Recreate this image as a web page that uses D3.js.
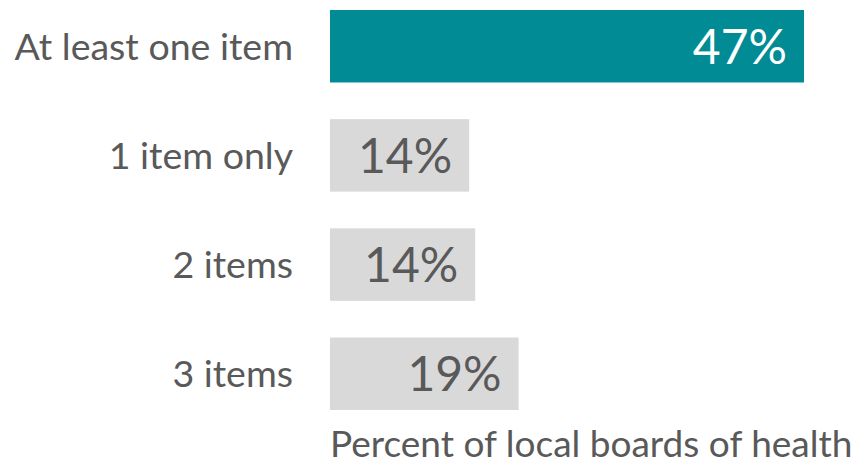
<!DOCTYPE html>
<html>
<head>
<meta charset="utf-8">
<script src="https://cdn.jsdelivr.net/npm/d3@7"></script>
<style>
  html, body { margin: 0; padding: 0; background: #ffffff; }
  svg { display: block; }
  text { font-family: Lato, "Open Sans", sans-serif; }
</style>
</head>
<body>
<svg id="chart" width="856" height="464"></svg>
<script>
// Share of local boards of health, by number of items
const categories = ["At least one item", "1 item only", "2 items", "3 items"];
const values = [47.0, 13.8, 14.4, 18.7];
const highlight = [true, false, false, false];
const axisTitle = "Percent of local boards of health";

const width = 856, height = 464;
const margin = { top: 10, left: 330 };

const svg = d3.select("#chart");

const x = d3.scaleLinear()
  .domain([0, 47])
  .range([margin.left, 804]);

const y = d3.scaleBand()
  .domain(categories)
  .range([margin.top, 410])
  .paddingInner(0.336)
  .paddingOuter(0);

const rows = categories.map((c, i) => ({ cat: c, value: values[i], hi: highlight[i] }));

// Bars
svg.append("g")
  .selectAll("rect")
  .data(rows)
  .join("rect")
  .attr("x", x(0))
  .attr("y", d => y(d.cat))
  .attr("width", d => x(d.value) - x(0))
  .attr("height", y.bandwidth())
  .attr("fill", d => d.hi ? "#008b95" : "#d9d9d9");

// Value labels inside the bar ends
const fmt = v => d3.format(".0f")(v) + "%";
svg.append("g")
  .selectAll("text")
  .data(rows)
  .join("text")
  .attr("x", d => x(d.value) - 17)
  .attr("y", d => y(d.cat) + y.bandwidth() / 2)
  .attr("dy", "0.36em")
  .attr("text-anchor", "end")
  .attr("font-size", 48)
  .attr("fill", d => d.hi ? "#ffffff" : "#595959")
  .text(d => fmt(d.value));

// Category axis
const yAxis = svg.append("g")
  .attr("transform", `translate(${margin.left},0)`)
  .call(d3.axisLeft(y).tickSize(0).tickPadding(37));
yAxis.select(".domain").remove();
yAxis.selectAll("text")
  .attr("font-size", 37.5)
  .attr("fill", "#595959")
  .attr("dy", "0.36em")
  .style("font-family", "Lato, 'Open Sans', sans-serif");

// Axis title
svg.append("text")
  .attr("x", margin.left)
  .attr("y", 457)
  .attr("font-size", 37)
  .attr("fill", "#595959")
  .text(axisTitle);
</script>
</body>
</html>
